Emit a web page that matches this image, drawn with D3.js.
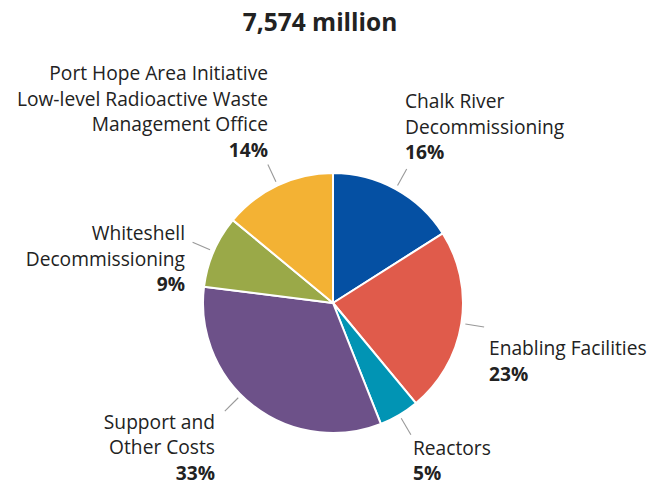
<!DOCTYPE html>
<html>
<head>
<script src="https://d3js.org/d3.v7.min.js"></script>
<style>
  body { margin: 0; background: #fff; }
  text { font-family: "Open Sans", "Noto Sans", sans-serif; fill: #222; }
  .title { font-weight: bold; font-size: 24.5px; }
  .lbl { font-size: 19.2px; }
  .pct { font-weight: bold; }
</style>
</head>
<body>
<script>
// data
const title = "7,574 million";
const categories = [
  "Chalk River Decommissioning",
  "Enabling Facilities",
  "Reactors",
  "Support and Other Costs",
  "Whiteshell Decommissioning",
  "Port Hope Area Initiative Low-level Radioactive Waste Management Office"
];
const shares = [16, 23, 5, 33, 9, 14];
const colors = ["#0550a3", "#e05b4b", "#0194b4", "#6d5189", "#9aa948", "#f3b234"];

// how each label is broken into lines + where it sits (layout only)
const labelLayout = [
  {lines: ["Chalk River", "Decommissioning"], x: 405, y: 108, anchor: "start"},
  {lines: ["Enabling Facilities"], x: 489, y: 355, anchor: "start"},
  {lines: ["Reactors"], x: 413, y: 454.5, anchor: "start"},
  {lines: ["Support and", "Other Costs"], x: 215, y: 428.5, anchor: "end", leaderAngle: 225},
  {lines: ["Whiteshell", "Decommissioning"], x: 185, y: 240, anchor: "end"},
  {lines: ["Port Hope Area Initiative", "Low-level Radioactive Waste", "Management Office"], x: 268, y: 80, anchor: "end"}
];

const width = 647, height = 485;
const cx = 333, cy = 303, radius = 130;
const lineH = 25.6;

const data = categories.map((c, i) => ({name: c, value: shares[i], color: colors[i], layout: labelLayout[i]}));

const svg = d3.select("body").append("svg")
    .attr("width", width)
    .attr("height", height);

svg.append("text")
    .attr("class", "title")
    .attr("x", 320)
    .attr("y", 31)
    .attr("text-anchor", "middle")
    .text(title);

const pie = d3.pie().sort(null).value(d => d.value);
const arc = d3.arc().innerRadius(0).outerRadius(radius);

const g = svg.append("g").attr("transform", `translate(${cx},${cy})`);

const arcs = pie(data);

g.selectAll("path")
  .data(arcs)
  .enter().append("path")
    .attr("d", arc)
    .attr("fill", d => d.data.color)
    .attr("stroke", "#fff")
    .attr("stroke-width", 2)
    .attr("stroke-linejoin", "round");

// leader lines
g.selectAll("line.leader")
  .data(arcs)
  .enter().append("line")
    .attr("class", "leader")
    .each(function(d) {
      const deg = d.data.layout.leaderAngle != null
        ? d.data.layout.leaderAngle
        : (d.startAngle + d.endAngle) / 2 * 180 / Math.PI;
      const a = deg * Math.PI / 180;
      d3.select(this)
        .attr("x1", Math.sin(a) * (radius + 4))
        .attr("y1", -Math.cos(a) * (radius + 4))
        .attr("x2", Math.sin(a) * (radius + 23))
        .attr("y2", -Math.cos(a) * (radius + 23));
    })
    .attr("stroke", "#999")
    .attr("stroke-width", 1.1);

// labels
const labels = svg.selectAll("text.lbl")
  .data(data)
  .enter().append("text")
    .attr("class", "lbl")
    .attr("text-anchor", d => d.layout.anchor)
    .attr("transform", d => `translate(${d.layout.x},${d.layout.y})`);

labels.each(function(d) {
  const t = d3.select(this);
  d.layout.lines.forEach((ln, i) => {
    t.append("tspan").attr("x", 0).attr("y", i * lineH).text(ln);
  });
  t.append("tspan")
    .attr("class", "pct")
    .attr("x", 0)
    .attr("y", d.layout.lines.length * lineH)
    .text(d.value + "%");
});
</script>
</body>
</html>
